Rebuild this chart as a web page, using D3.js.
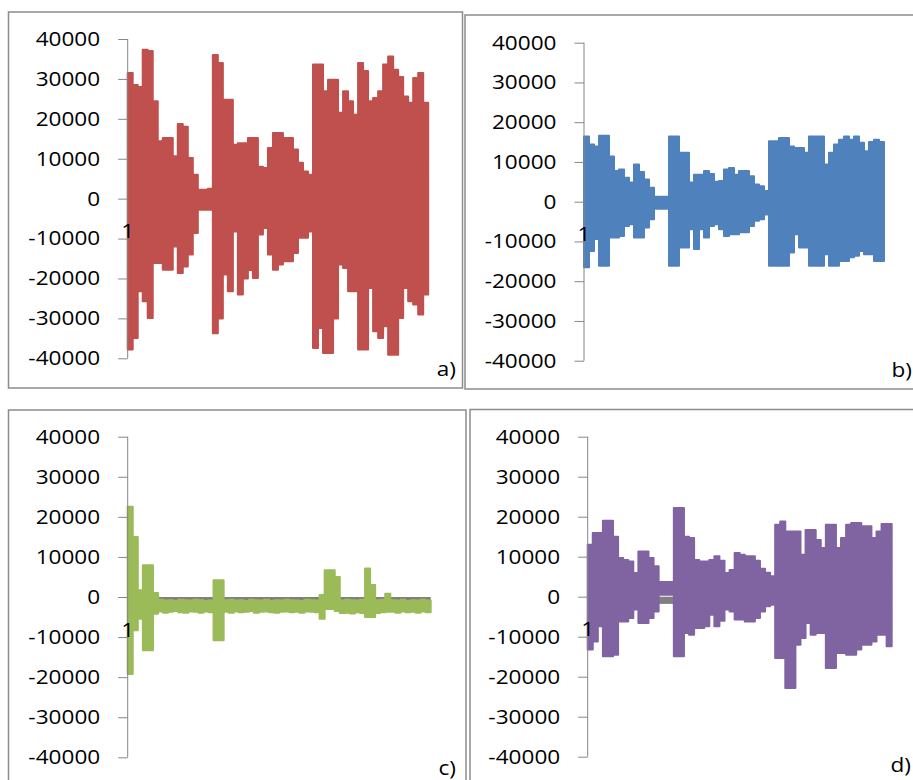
<!DOCTYPE html>
<html>
<head>
<meta charset="utf-8">
<title>Waveforms a) - d)</title>
<script src="https://d3js.org/d3.v7.min.js"></script>
<style>
body { margin: 0; background: #fff; }
svg { display: block; }
.frame { fill: none; stroke: #8c8c8c; stroke-width: 1.5; }
.axis path, .axis line { stroke: #868686; stroke-width: 1; }
.axis text, .lbl { font-family: "Open Sans", sans-serif; font-size: 20px; fill: #000; }
</style>
</head>
<body>
<div id="chart"></div>
<script>

// y ticks shared by the four plots
var yTicks = [-40000, -30000, -20000, -10000, 0, 10000, 20000, 30000, 40000];
var binWidth = 5;        // frames per envelope bin
var frameCount = 300;    // frames on the x axis
var greyBand = [0, -1800]; // grey series sitting under every waveform

// a) max / min of the signal in each bin
var aHi = [31500, 28500, 28000, 37300, 37000, 24400, 14400, 15200, 15200, 10600,
  18700, 18000, 10200, 6000, 2250, 2200, 2500, 36000, 34000, 24800,
  24800, 13500, 13900, 13900, 15200, 15200, 8000, 7700, 12700, 16450,
  16450, 15200, 15200, 12300, 9000, 6800, 6000, 33600, 33600, 26900,
  29800, 29800, 21500, 26900, 24400, 21000, 34000, 32000, 24400, 25200,
  26900, 33600, 35600, 32300, 30500, 25600, 24000, 30200, 31500, 24000];
var aLo = [-37800, -34900, -23200, -25700, -29900, -16100, -16100, -17800, -17800, -12000,
  -18600, -17000, -14000, -8600, -2750, -2750, -2750, -33700, -30000, -19000,
  -23200, -8200, -24000, -20000, -17900, -19900, -9000, -7350, -14000, -17800,
  -16500, -15700, -15700, -13600, -9800, -9800, -8200, -37400, -32400, -38700,
  -38700, -30000, -16500, -17400, -23200, -23200, -37800, -37800, -22400, -33200,
  -34900, -32000, -39100, -39100, -29900, -22400, -25700, -26500, -29000, -24000];

// b)
var bHi = [16400, 14400, 13900, 16600, 16600, 11400, 7700, 8100, 6000, 4800,
  9350, 7500, 5600, 3500, 1250, 1250, 1250, 16400, 16400, 12300,
  12300, 4800, 6800, 6800, 7700, 7000, 5000, 5200, 8100, 8500,
  6800, 7700, 7700, 6400, 4300, 3900, 2700, 15200, 15200, 16000,
  16000, 13900, 13500, 13500, 12300, 16400, 16400, 16400, 9350, 12300,
  14400, 15600, 16400, 15600, 16400, 14800, 12700, 15000, 15600, 15000];
var bLo = [-16500, -12400, -9400, -16100, -16100, -9000, -9000, -8600, -6100, -5700,
  -9000, -9000, -6500, -4400, -1750, -1750, -1750, -16100, -16100, -11500,
  -11500, -6900, -11900, -6900, -9000, -6100, -5700, -6900, -8600, -8200,
  -8200, -7700, -7700, -6100, -4800, -4400, -3200, -16100, -16100, -16100,
  -16100, -12800, -8200, -11500, -11500, -16100, -16100, -16100, -13200, -16100,
  -16100, -14900, -14900, -14000, -13600, -12400, -13200, -13200, -14900, -14900];

// c)
var cHi = [22500, 15000, 1700, 7900, 7900, 1000, -700, -900, -800, -1000,
  -700, -800, -900, -700, -800, -1000, -900, 4200, 4200, -800,
  -700, -900, -800, -1000, -700, -800, -900, -700, -1000, -800,
  -900, -700, -800, -900, -1000, -700, -800, -900, 500, 6700,
  6700, 5000, -900, -700, -800, -900, -700, 7100, 3000, -800,
  -700, 800, -800, -900, -700, -1000, -800, -900, -700, -900];
var cLo = [-19200, -8300, -5400, -13300, -13300, -4200, -3600, -3900, -3700, -3500,
  -3800, -3900, -3600, -3700, -3900, -3600, -3800, -10800, -10800, -3700,
  -3900, -3600, -3800, -3700, -3500, -3900, -3700, -3600, -3800, -3900,
  -3700, -3600, -3800, -3700, -3900, -3600, -3700, -3800, -5400, -3000,
  -3000, -3500, -4000, -3900, -4100, -3800, -4000, -5000, -5000, -4000,
  -3800, -3700, -3700, -3900, -3600, -3800, -3700, -3900, -3600, -3800];

// d)
var dHi = [13000, 15900, 15900, 19000, 19000, 15000, 9700, 9200, 8800, 5900,
  11300, 11300, 9700, 7600, 3700, 3700, 3700, 22200, 22200, 15000,
  14700, 9200, 8800, 8800, 9200, 10100, 9000, 5900, 6700, 10900,
  10500, 10100, 10100, 9000, 7000, 6000, 5100, 18000, 18800, 16300,
  16300, 16300, 10500, 16700, 16700, 14200, 12200, 18000, 18000, 12200,
  14700, 18000, 18400, 18400, 17600, 17600, 14700, 16300, 18200, 18200];
var dLo = [-13200, -11200, -7400, -14900, -14900, -14500, -6200, -6200, -5300, -3200,
  -6600, -6600, -5300, -3700, 500, 500, 500, -14900, -14900, -9100,
  -9500, -7800, -7800, -7400, -4500, -7400, -6000, -3200, -3700, -5700,
  -5700, -6200, -6200, -5300, -3700, -2400, -2000, -15300, -15300, -22800,
  -22800, -12000, -10300, -6600, -9500, -9100, -9100, -17800, -17800, -14100,
  -14100, -14500, -14500, -13200, -12000, -12000, -11200, -9500, -9500, -12400];

// layout of the four boxes (frame, axis position, plot size, letter position)
var panels = [
  {name: "a)", hi: aHi, lo: aLo, color: "#C0504D",
   frame: [8.5, 12, 454, 376], ax: 127.7, top: 39, bottom: 358.3, w: 300.5, lbl: [456, 376]},
  {name: "b)", hi: bHi, lo: bLo, color: "#4F81BD",
   frame: [465, 15, 450, 374], ax: 584, top: 42.7, bottom: 360.7, w: 300, lbl: [912, 377]},
  {name: "c)", hi: cHi, lo: cLo, color: "#9BBB59",
   frame: [8.5, 410, 457.5, 390], ax: 127.7, top: 436.7, bottom: 757.3, w: 303, lbl: [456, 775]},
  {name: "d)", hi: dHi, lo: dLo, color: "#8064A2",
   frame: [470, 409.5, 450, 390], ax: 587.7, top: 436.7, bottom: 756.7, w: 304, lbl: [911, 772]}
];

var stretch = 1.13; // the source text is a little wider than the font

var svg = d3.select("#chart")
  .append("svg")
  .attr("width", 913)
  .attr("height", 780);

panels.forEach(function(p) {
  var g = svg.append("g");

  g.append("rect")
    .attr("class", "frame")
    .attr("x", p.frame[0])
    .attr("y", p.frame[1])
    .attr("width", p.frame[2])
    .attr("height", p.frame[3]);

  var x = d3.scaleLinear().domain([0, frameCount]).range([p.ax, p.ax + p.w]);
  var y = d3.scaleLinear().domain([-40000, 40000]).range([p.bottom, p.top]);

  // grey series
  g.append("rect")
    .attr("x", x(0))
    .attr("y", y(greyBand[0]))
    .attr("width", x(frameCount) - x(0))
    .attr("height", y(greyBand[1]) - y(greyBand[0]))
    .attr("fill", "#808080");

  // waveform envelope
  var bins = p.hi.map(function(v, i) { return {i: i, hi: v, lo: p.lo[i]}; });
  bins.push({i: bins.length, hi: p.hi[p.hi.length - 1], lo: p.lo[p.lo.length - 1]});

  var area = d3.area()
    .x(d => x(d.i * binWidth))
    .y0(d => y(d.lo))
    .y1(d => y(d.hi))
    .curve(d3.curveStepAfter);

  g.append("path")
    .datum(bins)
    .attr("d", area)
    .attr("fill", p.color)
    .attr("stroke", p.color)
    .attr("stroke-width", 2)
    .attr("stroke-linejoin", "round");

  // y axis
  var axis = g.append("g")
    .attr("class", "axis")
    .attr("transform", "translate(" + p.ax + ",0)")
    .call(d3.axisLeft(y)
      .tickValues(yTicks)
      .tickSize(9.5)
      .tickSizeOuter(0)
      .tickPadding(18)
      .tickFormat(d => String(d)));
  axis.select(".domain").attr("d", "M0," + y(40000) + "V" + y(-40000));
  axis.selectAll("text")
    .attr("x", -27.5 / stretch)
    .attr("transform", "scale(" + stretch + ",1)");

  // category label
  g.append("text")
    .attr("class", "lbl")
    .attr("text-anchor", "middle")
    .attr("transform", "translate(" + p.ax + "," + (y(0) + 39.5) + ") scale(" + stretch + ",1)")
    .text("1");

  // panel letter
  g.append("text")
    .attr("class", "lbl")
    .attr("text-anchor", "end")
    .attr("transform", "translate(" + p.lbl[0] + "," + p.lbl[1] + ") scale(" + stretch + ",1)")
    .text(p.name);
});
</script>
</body>
</html>
